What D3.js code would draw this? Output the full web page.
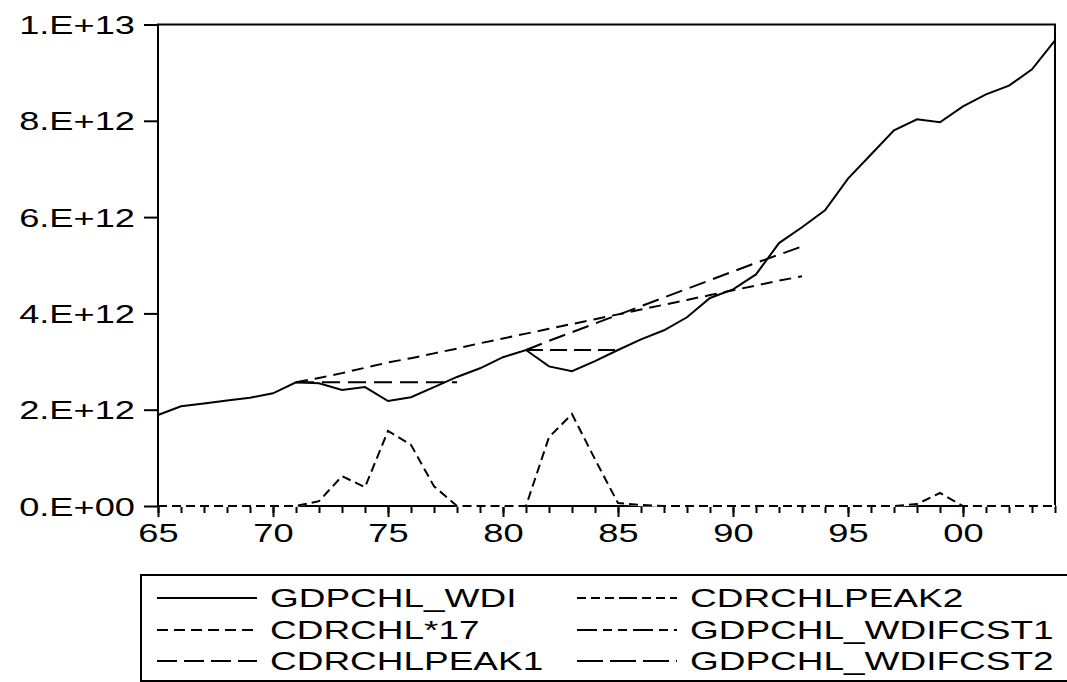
<!DOCTYPE html>
<html><head><meta charset="utf-8">
<script src="https://cdn.jsdelivr.net/npm/d3@7"></script>
<style>
html,body{margin:0;padding:0;background:#fff;}
svg{display:block;font-family:"Liberation Sans",Arial,sans-serif;}
</style></head>
<body><svg id="c" width="1067" height="682"></svg>
<script>
// ---- data (values in units of 1e12) ----
const years = d3.range(1965, 2005);
const gdpYears = years;
const gdpWdi = [1.89,2.07,2.13,2.19,2.25,2.34,2.57,2.55,2.41,2.47,2.18,2.26,2.47,2.68,2.86,3.09,3.24,2.90,2.80,3.01,3.24,3.46,3.65,3.92,4.32,4.50,4.81,5.46,5.79,6.14,6.80,7.30,7.80,8.03,7.97,8.30,8.55,8.73,9.07,9.67];
const cdr17 = [0,0,0,0,0,0,0,0.10,0.62,0.39,1.56,1.27,0.41,0,0,0,0,1.43,1.91,0.97,0.06,0.02,0,0,0,0,0,0,0,0,0,0,0,0.04,0.27,0,0,0,0,0];
const peak1Years = [1971,1972,1973,1974,1975,1976,1977,1978];
const peak1 = [2.57,2.57,2.57,2.57,2.57,2.57,2.57,2.57];
const peak2Years = [1981,1982,1983,1984,1985];
const peak2 = [3.24,3.24,3.24,3.24,3.24];
const fcst1Years = d3.range(1971, 1994);
const fcst1 = [2.57,2.66,2.76,2.87,2.98,3.07,3.17,3.27,3.38,3.48,3.58,3.68,3.78,3.88,3.98,4.08,4.18,4.28,4.38,4.48,4.58,4.68,4.77];
const fcst2Years = d3.range(1981, 1994);
const fcst2 = [3.24,3.43,3.61,3.79,3.97,4.15,4.33,4.51,4.69,4.87,5.05,5.22,5.39];

const yTicks = [0,2,4,6,8,10];
const yTickLabels = ["0.E+00","2.E+12","4.E+12","6.E+12","8.E+12","1.E+13"];
const xMajor = [1965,1970,1975,1980,1985,1990,1995,2000];
const xTickLabels = ["65","70","75","80","85","90","95","00"];
const seriesNames = ["GDPCHL_WDI","CDRCHL*17","CDRCHLPEAK1","CDRCHLPEAK2","GDPCHL_WDIFCST1","GDPCHL_WDIFCST2"];

// ---- layout ----
const L = 158, R = 1055, T = 24.5, B = 506;
const SX = 1.45, FS = 25;
const svg = d3.select("#c");
const x = d3.scaleLinear().domain([1965, 2004]).range([L, R]);
const y = d3.scaleLinear().domain([0, 10]).range([B, T]);

const styles = {
  "GDPCHL_WDI": null,
  "CDRCHL*17": "9,5",
  "CDRCHLPEAK1": "18,8",
  "CDRCHLPEAK2": "17,7",
  "GDPCHL_WDIFCST1": "12,7",
  "GDPCHL_WDIFCST2": "17,8"
};

// frame
svg.append("path").attr("d", `M${L},${B}V${T}H${R}V${B}`).attr("fill","none").attr("stroke","#000").attr("stroke-width",2);

// x axis minor ticks
const xAxisMinor = d3.axisBottom(x).tickValues(years).tickSize(7).tickFormat("");
const gxm = svg.append("g").attr("transform",`translate(0,${B})`).call(xAxisMinor);
gxm.select(".domain").remove();
gxm.selectAll("line").attr("stroke-width",2);
// x axis major
const xAxis = d3.axisBottom(x).tickValues(xMajor).tickSize(11).tickFormat((d,i)=>xTickLabels[i]);
const gx = svg.append("g").attr("transform",`translate(0,${B})`).call(xAxis);
gx.select(".domain").attr("stroke-width",2).attr("d",`M${L},0H${R}`);
gx.selectAll("line").attr("stroke-width",2);
gx.selectAll("text").attr("font-size",FS).attr("fill","#000").attr("font-family","Liberation Sans, Arial, sans-serif")
  .attr("y",null).attr("dy",null)
  .attr("transform",`translate(0,36) scale(${SX},1)`);

// y axis
const yAxis = d3.axisLeft(y).tickValues(yTicks).tickSize(14).tickFormat((d,i)=>yTickLabels[i]);
const gy = svg.append("g").attr("transform",`translate(${L},0)`).call(yAxis);
gy.select(".domain").attr("stroke-width",2).attr("d",`M0,${B}V${T}`);
gy.selectAll("line").attr("stroke-width",2);
gy.selectAll("text").attr("font-size",FS).attr("fill","#000").attr("font-family","Liberation Sans, Arial, sans-serif")
  .attr("x",-23/SX).attr("dy","0.36em")
  .attr("transform",`scale(${SX},1)`);

// lines
const line = d3.line().x(d=>x(d[0])).y(d=>y(d[1]));
const series = [
  ["GDPCHL_WDI", gdpYears, gdpWdi],
  ["CDRCHL*17", years, cdr17],
  ["CDRCHLPEAK1", peak1Years, peak1],
  ["CDRCHLPEAK2", peak2Years, peak2],
  ["GDPCHL_WDIFCST1", fcst1Years, fcst1],
  ["GDPCHL_WDIFCST2", fcst2Years, fcst2]
];
series.forEach(([name, xs, vs])=>{
  const pts = xs.map((yr,i)=>[yr, vs[i]]);
  if (name === "CDRCHL*17") {
    svg.append("path").datum(pts).attr("d", line).attr("fill","none")
      .attr("stroke","#fff").attr("stroke-width",2.2);
  }
  svg.append("path").datum(pts)
    .attr("d", line).attr("fill","none").attr("stroke","#000").attr("stroke-width",2)
    .attr("stroke-dasharray", styles[name]);
});

// legend
svg.append("path").attr("d","M1070,575H141V681H1070").attr("fill","none").attr("stroke","#000").attr("stroke-width",2);
const legStyles = {
  "GDPCHL_WDI": null,
  "CDRCHL*17": "11,6",
  "CDRCHLPEAK1": "20,7",
  "CDRCHLPEAK2": "9,5,9,5,9,5,18,5",
  "GDPCHL_WDIFCST1": "20,6,9,6,9,6",
  "GDPCHL_WDIFCST2": "26,7"
};
const rowsY = [598, 630, 661];
seriesNames.forEach((name,i)=>{
  const col = Math.floor(i/3), row = i%3;
  const x0 = col===0 ? 157 : 577, tx = col===0 ? 270 : 690;
  const yy = rowsY[row];
  svg.append("line").attr("x1",x0).attr("x2",x0+100).attr("y1",yy).attr("y2",yy)
    .attr("stroke","#000").attr("stroke-width",2).attr("stroke-dasharray", legStyles[name]);
  svg.append("text").attr("transform",`translate(${tx},${yy+9}) scale(${SX},1)`)
    .attr("font-size",FS+0.5).attr("fill","#000").text(name);
});
</script>
</body></html>
